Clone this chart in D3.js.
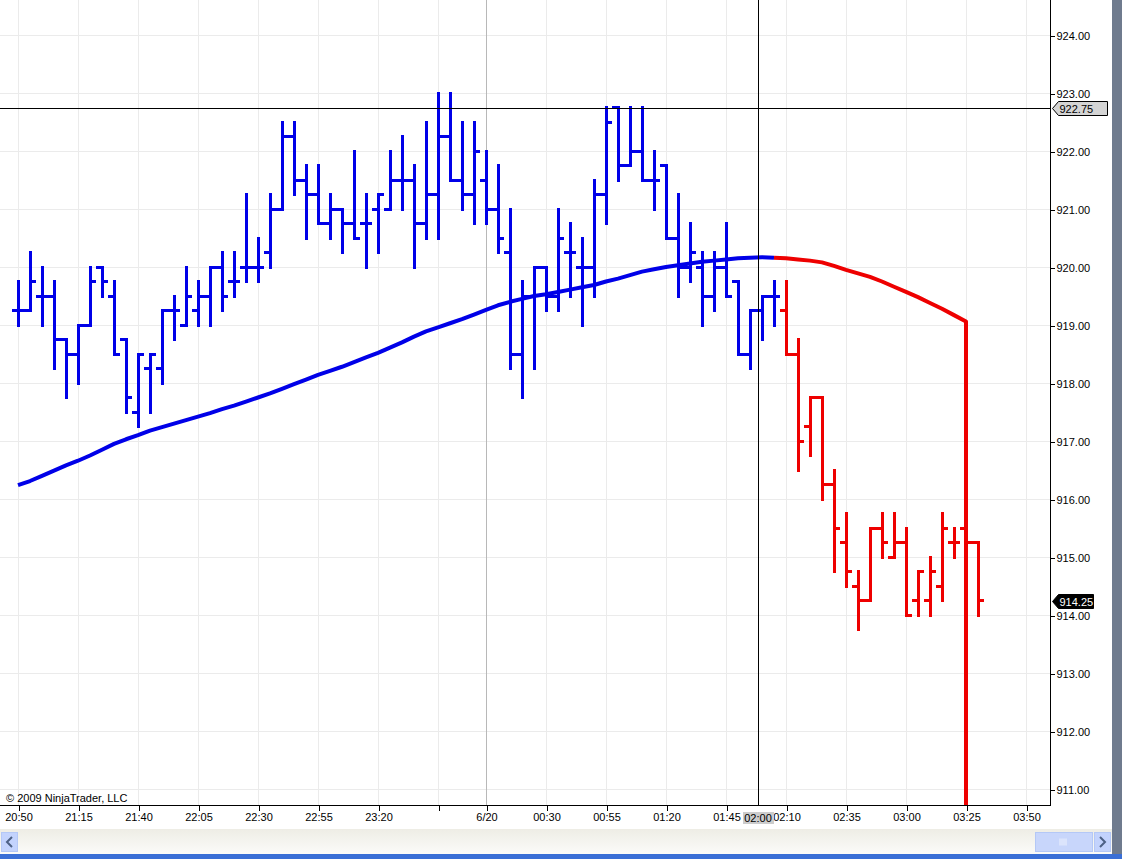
<!DOCTYPE html>
<html>
<head>
<meta charset="utf-8">
<script src="https://cdn.jsdelivr.net/npm/d3@7"></script>
<style>
  html, body { margin: 0; padding: 0; background: #fff; overflow: hidden; }
  text { font-family: "Liberation Sans", Arial, sans-serif; }
</style>
</head>
<body>
<div id="chart"></div>
<script>
// bar index 0 = 20:50, 5 minute bars
var opens  = [919.25,919.25,919.5,919.5,918.75,918.5,919.0,920.0,919.5,918.75,
              917.5,918.25,918.25,919.25,919.0,919.25,919.5,920.0,919.75,920.0,
              920.0,920.25,921.0,922.25,921.5,921.25,920.75,921.0,920.75,920.75,
              921.0,921.0,921.5,921.5,920.75,921.25,922.25,921.5,921.25,921.5,
              921.0,920.25,918.5,919.5,920.0,919.5,920.25,920.0,920.0,921.25,
              922.75,921.75,922.0,921.5,921.75,920.5,920.0,920.0,919.5,920.0,
              919.75,918.5,919.25,919.5,
              919.25,918.5,917.25,917.75,916.25,915.25,914.5,914.25,915.5,915.0,
              915.25,914.25,914.25,914.5,915.25,915.5,915.25];
var highs  = [919.75,920.25,920.0,919.75,918.75,919.0,920.0,920.0,919.75,918.75,
              918.5,918.5,919.25,919.5,920.0,919.75,920.0,920.25,920.25,921.25,
              920.5,921.25,922.5,922.5,921.75,921.75,921.25,921.0,922.0,921.25,
              921.25,922.0,922.25,921.75,922.5,923.0,923.0,922.5,922.5,922.0,
              921.75,921.0,919.75,920.0,920.0,921.0,920.75,920.5,921.5,922.75,
              922.75,922.75,922.75,922.0,921.75,921.25,920.75,920.25,920.25,920.75,
              919.75,919.25,919.5,919.75,
              919.75,918.75,917.75,917.75,916.5,915.75,914.75,915.5,915.75,915.75,
              915.5,914.75,915.0,915.75,915.5,915.75,915.25];
var lows   = [919.0,919.25,919.0,918.25,917.75,918.0,919.0,919.5,918.5,917.5,
              917.25,917.5,918.0,918.75,919.0,919.0,919.0,919.25,919.5,919.75,
              919.75,920.0,921.0,921.25,920.5,920.75,920.5,920.25,920.5,920.0,
              920.25,921.0,921.0,920.0,920.5,920.5,921.5,921.0,920.75,920.75,
              920.25,918.25,917.75,918.25,919.25,919.25,919.5,919.0,919.5,920.75,
              921.5,921.75,921.5,921.0,920.5,919.5,919.75,919.0,919.25,919.5,
              918.5,918.25,918.75,919.0,
              918.5,916.5,916.75,916.0,914.75,914.5,913.75,914.25,915.0,915.0,
              914.0,914.0,914.0,914.25,915.0,914.75,914.0];
var closes = [919.25,919.75,919.5,918.75,918.5,919.0,919.75,919.75,918.5,917.75,
              918.5,918.5,919.25,919.25,919.5,919.5,920.0,919.5,919.75,920.0,
              920.0,921.0,922.25,921.5,921.25,920.75,921.0,920.75,920.5,920.75,
              921.25,921.5,921.5,920.75,921.25,922.25,921.5,921.25,922.0,921.0,
              920.5,918.5,919.5,920.0,919.5,920.5,920.25,920.0,921.25,922.5,
              921.75,922.0,921.5,921.5,920.5,920.0,920.25,919.5,920.0,919.5,
              918.5,919.25,919.5,919.5,
              918.5,917.0,917.75,916.25,915.5,914.75,914.25,915.5,915.25,915.25,
              914.0,914.75,914.75,915.5,915.25,915.25,914.25];
var firstRedBar = 64;

// moving average, blue part bars 0..63
var maBlue = [916.24,916.31,916.40,916.49,916.58,916.66,916.75,916.85,916.95,917.03,
              917.10,917.18,917.24,917.30,917.36,917.42,917.48,917.55,917.61,917.68,
              917.75,917.82,917.90,917.98,918.06,918.14,918.21,918.28,918.36,918.44,
              918.52,918.61,918.70,918.80,918.89,918.96,919.03,919.10,919.18,919.26,
              919.34,919.40,919.45,919.50,919.53,919.57,919.61,919.65,919.69,919.75,
              919.80,919.86,919.92,919.96,920.00,920.03,920.06,920.09,920.11,920.13,
              920.15,920.16,920.17,920.16];
// red part, bars 63..79, then drops off the chart at bar 79
var maRedStart = 63;
var maRed = [920.16,920.15,920.13,920.11,920.08,920.02,919.95,919.89,919.83,919.75,
             919.66,919.57,919.48,919.38,919.28,919.17,919.06];
var maRedDrop = 905;

var timeTicks  = [0,5,10,15,20,25,30,35,39,44,49,54,59,64,69,74,79,84];
var timeLabels = ['20:50','21:15','21:40','22:05','22:30','22:55','23:20','',
                  '6/20','00:30','00:55','01:20','01:45','02:10','02:35','03:00','03:25','03:50'];
var priceTicks = [911,912,913,914,915,916,917,918,919,920,921,922,923,924];
var sessionBreak = 39;

var cross = { bar: 61.7, price: 922.75, label: '02:00' };

var width = 1122, height = 859,
    plotRight = 1050, plotBottom = 805;

var blue = '#0000e8', red = '#ee0000';

var x = d3.scaleLinear().domain([0, 84]).range([18, 1026]);
var y = d3.scaleLinear().domain([911, 924]).range([789, 35]);
var half = (x(1) - x(0)) / 2;

var svg = d3.select('#chart').append('svg')
  .attr('width', width)
  .attr('height', height);

svg.append('defs').append('clipPath').attr('id', 'plot')
  .append('rect').attr('x', 0).attr('y', 0)
  .attr('width', plotRight).attr('height', plotBottom);

// grid
var grid = svg.append('g').attr('shape-rendering', 'crispEdges');
grid.selectAll('.hg').data(priceTicks).enter().append('line')
  .attr('x1', 0).attr('x2', plotRight)
  .attr('y1', function(d) { return Math.round(y(d)) + 0.5; })
  .attr('y2', function(d) { return Math.round(y(d)) + 0.5; })
  .style('stroke', '#ebebeb');
grid.selectAll('.vg').data(timeTicks).enter().append('line')
  .attr('x1', function(d) { return x(d) + 0.5; })
  .attr('x2', function(d) { return x(d) + 0.5; })
  .attr('y1', 0).attr('y2', plotBottom)
  .style('stroke', function(d) { return d === sessionBreak ? '#b8b8b8' : '#ebebeb'; });

var plot = svg.append('g').attr('clip-path', 'url(#plot)');

// moving average
var maLine = d3.line()
  .x(function(d) { return x(d.i); })
  .y(function(d) { return y(d.v); });

var bluePts = maBlue.map(function(v, i) { return { i: i, v: v }; });
var redPts = maRed.map(function(v, i) { return { i: maRedStart + i, v: v }; });
redPts.push({ i: maRedStart + maRed.length - 1, v: maRedDrop });

plot.append('path').datum(bluePts)
  .attr('d', maLine)
  .style('fill', 'none').style('stroke', blue)
  .style('stroke-width', 4).style('stroke-linejoin', 'round');

// OHLC bars
var bars = plot.append('g').attr('shape-rendering', 'crispEdges');
var bar = bars.selectAll('g.bar').data(opens).enter().append('g')
  .style('stroke', function(d, i) { return i >= firstRedBar ? red : blue; })
  .style('stroke-width', 3);

bar.append('line')
  .attr('x1', function(d, i) { return x(i); })
  .attr('x2', function(d, i) { return x(i); })
  .attr('y1', function(d, i) { return y(highs[i]) - 1.5; })
  .attr('y2', function(d, i) { return y(lows[i]) + 1.5; });
bar.append('line')
  .attr('x1', function(d, i) { return x(i) - half; })
  .attr('x2', function(d, i) { return x(i); })
  .attr('y1', function(d) { return y(d); })
  .attr('y2', function(d) { return y(d); });
bar.append('line')
  .attr('x1', function(d, i) { return x(i); })
  .attr('x2', function(d, i) { return x(i) + half; })
  .attr('y1', function(d, i) { return y(closes[i]); })
  .attr('y2', function(d, i) { return y(closes[i]); });

plot.append('path').datum(redPts)
  .attr('d', maLine)
  .style('fill', 'none').style('stroke', red)
  .style('stroke-width', 4).style('stroke-linejoin', 'round');

// crosshair
var ch = svg.append('g').attr('shape-rendering', 'crispEdges').style('stroke', '#000');
ch.append('line')
  .attr('x1', 0).attr('x2', plotRight)
  .attr('y1', Math.round(y(cross.price)) + 0.5).attr('y2', Math.round(y(cross.price)) + 0.5);
ch.append('line')
  .attr('x1', Math.round(x(cross.bar)) + 0.5).attr('x2', Math.round(x(cross.bar)) + 0.5)
  .attr('y1', 0).attr('y2', plotBottom);

svg.append('text')
  .attr('x', 6).attr('y', 802)
  .attr('font-size', '11px').attr('fill', '#000')
  .text('\u00a9 2009 NinjaTrader, LLC');

// axes
var xAxis = d3.axisBottom(x)
  .tickValues(timeTicks)
  .tickFormat(function(d, i) { return timeLabels[i]; })
  .tickSize(6).tickPadding(2);
var gx = svg.append('g').attr('transform', 'translate(0.5,' + plotBottom + ')').call(xAxis);
gx.select('.domain').remove();
gx.selectAll('text').attr('font-size', '11px').attr('fill', '#000').style('font-family', '"Liberation Sans", Arial, sans-serif');
gx.selectAll('line').attr('shape-rendering', 'crispEdges');

var yAxis = d3.axisRight(y)
  .tickValues(priceTicks)
  .tickFormat(d3.format('.2f'))
  .tickSize(4).tickPadding(2);
var gy = svg.append('g').attr('transform', 'translate(' + (plotRight + 0.5) + ',0.5)').call(yAxis);
gy.select('.domain').remove();
gy.selectAll('text').attr('font-size', '11px').attr('fill', '#000').style('font-family', '"Liberation Sans", Arial, sans-serif');
gy.selectAll('line').attr('shape-rendering', 'crispEdges');

svg.append('line')
  .attr('x1', 0).attr('x2', plotRight + 1)
  .attr('y1', plotBottom + 0.5).attr('y2', plotBottom + 0.5)
  .style('stroke', '#000').attr('shape-rendering', 'crispEdges');
svg.append('line')
  .attr('x1', plotRight + 0.5).attr('x2', plotRight + 0.5)
  .attr('y1', 0).attr('y2', plotBottom)
  .style('stroke', '#000').attr('shape-rendering', 'crispEdges');

// price flags on the axis
function priceFlag(price, w, fill, stroke, color) {
  var cy = Math.round(y(price)) + 0.5, x0 = plotRight + 2.5;
  svg.append('path')
    .attr('d', 'M' + x0 + ',' + cy + 'L' + (x0 + 6) + ',' + (cy - 7) + 'H' + (x0 + w) +
               'V' + (cy + 7) + 'H' + (x0 + 6) + 'Z')
    .style('fill', fill).style('stroke', stroke);
  svg.append('text')
    .attr('x', x0 + 7).attr('y', cy + 4)
    .attr('font-size', '11px').attr('fill', color)
    .text(d3.format('.2f')(price));
}
priceFlag(cross.price, 55, '#d4d4d4', '#000', '#000');
priceFlag(closes[closes.length - 1], 41, '#000', '#000', '#fff');

// time flag
var tx = Math.round(x(cross.bar));
svg.append('rect')
  .attr('x', tx - 15).attr('y', 812)
  .attr('width', 31).attr('height', 12)
  .style('fill', '#cccccc');
svg.append('text')
  .attr('x', tx).attr('y', 822)
  .attr('text-anchor', 'middle')
  .attr('font-size', '11px').attr('fill', '#000')
  .text(cross.label);

// window chrome: scroll bar, right edge, bottom strip
var track = svg.append('defs').append('linearGradient').attr('id', 'track')
  .attr('x1', 0).attr('x2', 0).attr('y1', 0).attr('y2', 1);
track.append('stop').attr('offset', 0).attr('stop-color', '#eeede5');
track.append('stop').attr('offset', 1).attr('stop-color', '#fbfbf9');
svg.append('rect').attr('x', 0).attr('y', 829).attr('width', 1112).attr('height', 25)
  .style('fill', 'url(#track)');
svg.append('rect').attr('x', 1.5).attr('y', 832.5).attr('width', 16).attr('height', 19)
  .style('fill', '#c3d3fd').style('stroke', '#b4c8f6');
svg.append('path').attr('d', 'M12,837L7,842L12,847')
  .style('fill', 'none').style('stroke', '#4d6185').style('stroke-width', 2);
svg.append('rect').attr('x', 1035.5).attr('y', 832.5).attr('width', 57).attr('height', 19)
  .style('fill', '#c8d6fb').style('stroke', '#b4c8f6');
svg.append('path').attr('d', 'M1060,838.5v7M1062,838.5v7M1064,838.5v7M1066,838.5v7')
  .style('stroke', '#eef2fd');
svg.append('rect').attr('x', 1094.5).attr('y', 832.5).attr('width', 16).attr('height', 19)
  .style('fill', '#c3d3fd').style('stroke', '#b4c8f6');
svg.append('path').attr('d', 'M1100,837L1105,842L1100,847')
  .style('fill', 'none').style('stroke', '#4d6185').style('stroke-width', 2);
svg.append('rect').attr('x', 1112).attr('y', 0).attr('width', 10).attr('height', 855)
  .style('fill', '#6f7b8e');
svg.append('rect').attr('x', 0).attr('y', 854).attr('width', width).attr('height', 5)
  .style('fill', '#3a6fd6');
</script>
</body>
</html>
